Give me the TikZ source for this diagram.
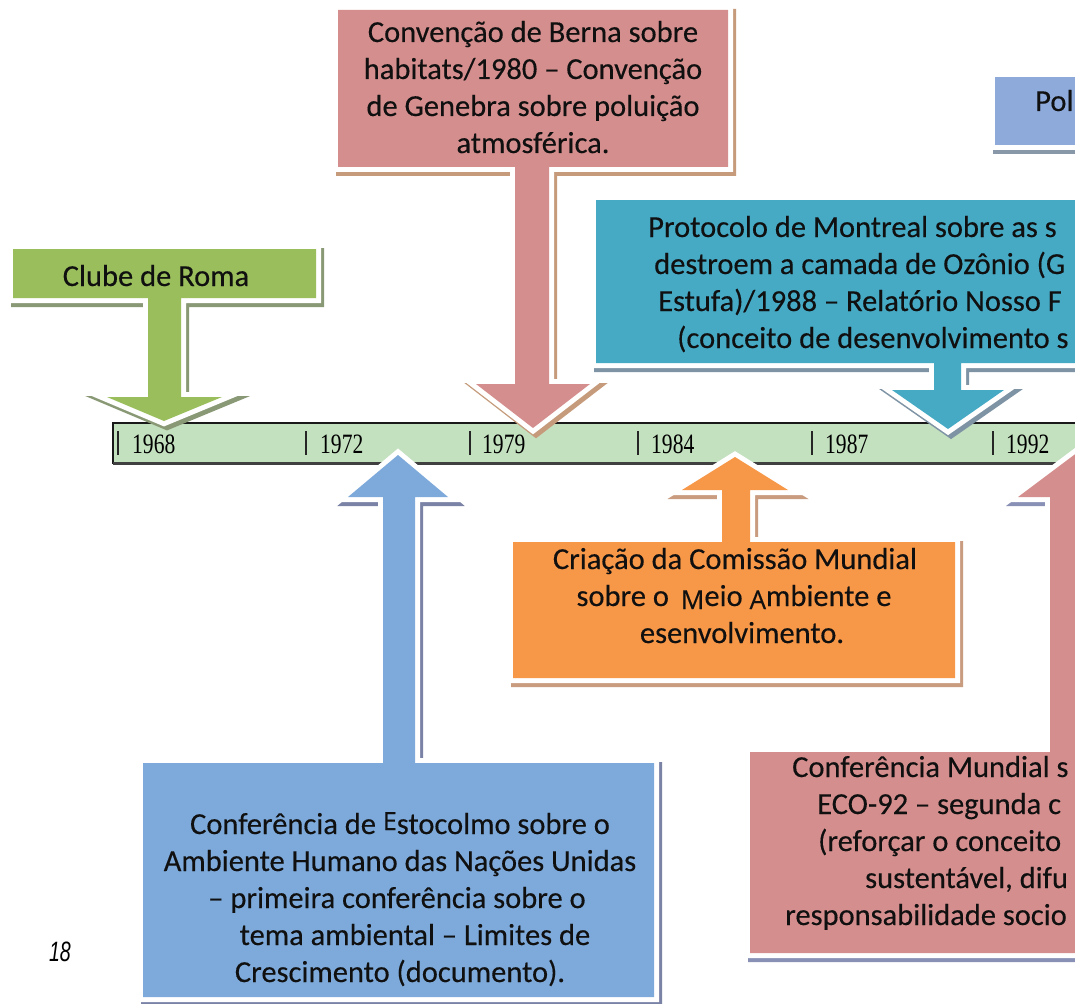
\documentclass[tikz,border=0pt]{standalone}
\usepackage{fontspec}
\usepackage{graphicx}
\setmainfont[FakeBold=0.3]{Carlito}
\newfontfamily\yearfont{Liberation Serif}
\newfontfamily\altfont[FakeBold=0.3]{Open Sans}
\newfontfamily\pagefont{Liberation Sans}

\definecolor{cGreen}{HTML}{9BBE5C}
\definecolor{cGreenS}{HTML}{8A9975}
\definecolor{cRose}{HTML}{D48E8D}
\definecolor{cRoseS}{HTML}{C59B7B}
\definecolor{cAqua}{HTML}{46AAC5}
\definecolor{cAquaS}{HTML}{7E93A4}
\definecolor{cPol}{HTML}{8DAADB}
\definecolor{cPolS}{HTML}{8998A8}
\definecolor{cOrange}{HTML}{F79748}
\definecolor{cOrangeS}{HTML}{C99B7F}
\definecolor{cBlue}{HTML}{7DAADB}
\definecolor{cBlueS}{HTML}{7A82A6}
\definecolor{cEco}{HTML}{D48E8D}
\definecolor{cEcoS}{HTML}{8890B6}
\definecolor{cBar}{HTML}{C3E0BF}
\definecolor{cText}{HTML}{101010}

% #1 fill colour, #2 shadow colour, #3 outline path
\newcommand\calloutshape[3]{%
  \draw[fill=#2, draw=#2, line width=10pt, line join=miter, shift={(3,4)}] #3;
  \draw[fill=white, draw=white, line width=10pt, line join=miter] #3;
  \fill[#1] #3;
}

\begin{document}
\begin{tikzpicture}[x=1pt,y=-1pt,
  txt/.style={font=\fontsize{30.5}{37}\selectfont, inner sep=0pt, text=cText},
  yr/.style={font=\yearfont\fontsize{28}{28}\selectfont, inner sep=0pt, text=black},
  tickline/.style={line width=1.2pt, draw=black!85}]
\useasboundingbox (0,0) rectangle (1075,1003);
\clip (0,0) rectangle (1075,1003);
\fill[white] (0,0) rectangle (1075,1003);

% timeline bar
\fill[cBar] (113,423) rectangle (1090,463);
\draw[line width=1.5pt, black!90] (1090,423) -- (113,423) -- (113,463) -- (1090,463);
\draw[line width=2.5pt, black!75] (113,463.5) -- (1090,463.5);

% ticks and years
\foreach \tx/\lx/\yy in {118/132/1968, 306/320/1972, 470/482/1979, 638/651/1984, 812/825/1987, 993/1006/1992}{
  \draw[tickline] (\tx,431) -- (\tx,455);
  \node[yr, anchor=base west] (year\yy) at (\lx,453) {\scalebox{0.77}[1]{\yy}};
}

% Clube de Roma (down)
\calloutshape{cGreen}{cGreenS}{(13,249) -- (316,249) -- (316,298) -- (181,298) -- (181,397) -- (222,397) -- (164,421) -- (107,397) -- (148,397) -- (148,298) -- (13,298) -- cycle}
% Berna (down)
\calloutshape{cRose}{cRoseS}{(338,10) -- (728,10) -- (728,167) -- (549,167) -- (549,384) -- (590,384) -- (533,428) -- (476,384) -- (515,384) -- (515,167) -- (338,167) -- cycle}
% Pol
\calloutshape{cPol}{cPolS}{(995,77) -- (1100,77) -- (1100,145) -- (995,145) -- cycle}
% Montreal (down)
\calloutshape{cAqua}{cAquaS}{(596,200) -- (1100,200) -- (1100,363) -- (961,363) -- (961,390) -- (1004,390) -- (948,429) -- (892,390) -- (934,390) -- (934,363) -- (596,363) -- cycle}
% Comissao (up)
\calloutshape{cOrange}{cOrangeS}{(513,678) -- (955,678) -- (955,542) -- (750,542) -- (750,490) -- (788,490) -- (735,457) -- (682,490) -- (722,490) -- (722,542) -- (513,542) -- cycle}
% Estocolmo (up)
\calloutshape{cBlue}{cBlueS}{(143,997) -- (654,997) -- (654,763) -- (415,763) -- (415,497) -- (448,497) -- (398,455) -- (348,497) -- (383,497) -- (383,763) -- (143,763) -- cycle}
% ECO-92 (up)
\calloutshape{cEco}{cEcoS}{(750,953) -- (1110,953) -- (1110,752) -- (1106,752) -- (1106,497) -- (1138,497) -- (1078,452) -- (1018,497) -- (1050,497) -- (1050,752) -- (750,752) -- cycle}

% texts
\node[txt, anchor=base] (roma) at (156,286) {Clube de Roma};

\node[txt, anchor=base] (ber1) at (533,42) {Convenção de Berna sobre};
\node[txt, anchor=base] (ber2) at (533,79) {habitats/1980 – Convenção};
\node[txt, anchor=base] (ber3) at (533,116) {de Genebra sobre poluição};
\node[txt, anchor=base] (ber4) at (533,153) {atmosférica.};

\node[txt, anchor=base west] (pol) at (1035,111) {Pol};

\node[txt, anchor=base west] (mon1) at (648,237) {Protocolo de Montreal sobre as s};
\node[txt, anchor=base west] (mon2) at (654,274) {destroem a camada de Ozônio (G};
\node[txt, anchor=base west] (mon3) at (658,311) {Estufa)/1988 – Relatório Nosso F};
\node[txt, anchor=base west] (mon4) at (677,348) {(conceito de desenvolvimento s};

\node[txt, anchor=base] (com1) at (735,569) {Criação da Comissão Mundial};
\node[txt, anchor=base] (com2) at (734,606) {sobre o \,{\altfont\fontsize{26}{26}\selectfont\raisebox{-3pt}{M}}eio {\altfont\fontsize{26}{26}\selectfont\raisebox{-3pt}{A}}mbiente e};
\node[txt, anchor=base] (com3) at (742,643) {esenvolvimento.};

\node[txt, anchor=base] (est1) at (400,834) {Conferência de {\altfont\fontsize{25}{25}\selectfont\raisebox{4pt}{E}}stocolmo sobre o};
\node[txt, anchor=base] (est2) at (400,871) {Ambiente Humano das Nações Unidas};
\node[txt, anchor=base] (est3) at (397,908) {– primeira conferência sobre o};
\node[txt, anchor=base] (est4) at (415,945) {tema ambiental – Limites de};
\node[txt, anchor=base] (est5) at (400,982) {Crescimento (documento).};

\node[txt, anchor=base west] (eco1) at (792,777) {Conferência Mundial s};
\node[txt, anchor=base west] (eco2) at (817,814) {ECO-92 – segunda c};
\node[txt, anchor=base west] (eco3) at (818,851) {(reforçar o conceito};
\node[txt, anchor=base west] (eco4) at (865,888) {sustentável, difu};
\node[txt, anchor=base west] (eco5) at (785,925) {responsabilidade socio};

\node[inner sep=0pt, font=\pagefont\itshape\fontsize{28}{28}\selectfont] (page) at (60,952) {\scalebox{0.7}[1]{18}};
\end{tikzpicture}
\end{document}
